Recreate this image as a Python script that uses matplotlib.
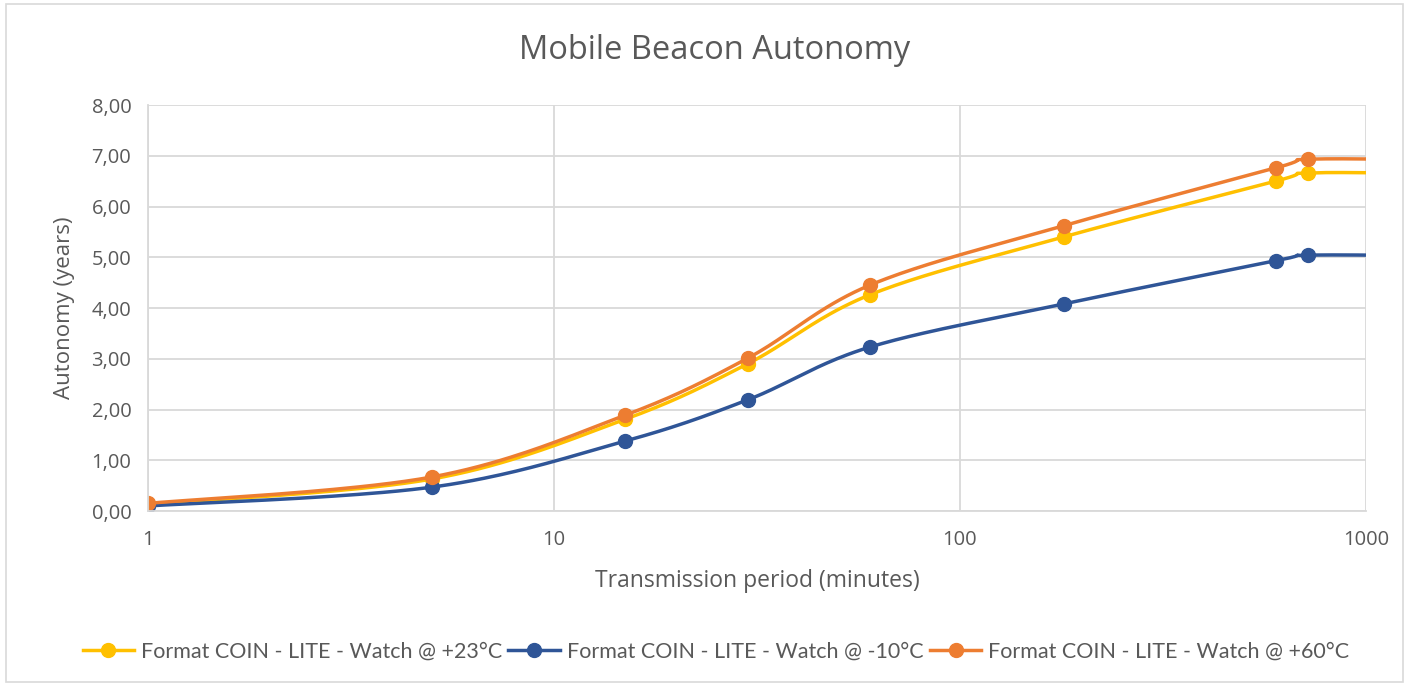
import numpy as np
import matplotlib
matplotlib.use("Agg")
import matplotlib.pyplot as plt
from matplotlib.ticker import FuncFormatter, FixedLocator, NullLocator
from matplotlib.patches import Rectangle

plt.rcParams['font.family'] = ['Open Sans', 'DejaVu Sans']

# Data (x in minutes, y in years)
periods = [1, 5, 15, 30, 60, 180, 600, 720, 1440]
auto_23 = [0.13, 0.63, 1.81, 2.90, 4.26, 5.40, 6.50, 6.66, 6.65]
auto_m10 = [0.10, 0.47, 1.38, 2.19, 3.23, 4.08, 4.93, 5.04, 5.03]
auto_60 = [0.15, 0.67, 1.89, 3.01, 4.45, 5.62, 6.76, 6.93, 6.92]

labels = ['Format COIN - LITE - Watch @ +23°C',
          'Format COIN - LITE - Watch @ -10°C',
          'Format COIN - LITE - Watch @ +60°C']
colors = ['#FFC000', '#2F5597', '#ED7D31']


def smooth(xs, ys, n=40):
    # Excel-like smoothed line (Catmull-Rom Bezier) in log-x space
    px = np.log10(np.array(xs, float))
    py = np.array(ys, float)
    outx, outy = [], []
    for i in range(len(px) - 1):
        p0 = (px[max(i - 1, 0)], py[max(i - 1, 0)])
        p1 = (px[i], py[i])
        p2 = (px[i + 1], py[i + 1])
        p3 = (px[min(i + 2, len(px) - 1)], py[min(i + 2, len(px) - 1)])
        c1 = (p1[0] + (p2[0] - p0[0]) / 6, p1[1] + (p2[1] - p0[1]) / 6)
        c2 = (p2[0] - (p3[0] - p1[0]) / 6, p2[1] - (p3[1] - p1[1]) / 6)
        t = np.linspace(0, 1, n)
        bx = ((1 - t) ** 3 * p1[0] + 3 * (1 - t) ** 2 * t * c1[0]
              + 3 * (1 - t) * t ** 2 * c2[0] + t ** 3 * p2[0])
        by = ((1 - t) ** 3 * p1[1] + 3 * (1 - t) ** 2 * t * c1[1]
              + 3 * (1 - t) * t ** 2 * c2[1] + t ** 3 * p2[1])
        outx.extend(bx)
        outy.extend(by)
    return 10 ** np.array(outx), np.array(outy)


fig = plt.figure(figsize=(14.09, 6.85), dpi=100)
ax = fig.add_axes([0.105, 0.254, 0.8644, 0.5927])

for ys, lab, col in zip([auto_23, auto_m10, auto_60], labels, colors):
    sx, sy = smooth(periods, ys)
    ax.plot(sx, sy, color=col, linewidth=2.5, solid_capstyle='round')
    ax.plot(periods, ys, 'o', color=col, markersize=10)
    ax.plot([], [], color=col, linewidth=2.5, marker='o', markersize=10, label=lab)

ax.set_xscale('log')
ax.set_xlim(1, 1000)
ax.set_ylim(0, 8)
ax.set_yticks(np.arange(0, 8.1, 1))
ax.yaxis.set_major_formatter(FuncFormatter(lambda v, p: f'{v:.2f}'.replace('.', ',')))
ax.xaxis.set_major_locator(FixedLocator([1, 10, 100, 1000]))
ax.xaxis.set_minor_locator(NullLocator())
ax.xaxis.set_major_formatter(FuncFormatter(lambda v, p: f'{int(v)}'))

ax.grid(True, color='#D9D9D9', linewidth=1.3)
ax.set_axisbelow(True)
for s in ['top', 'right']:
    ax.spines[s].set_visible(False)
for s in ['left', 'bottom']:
    ax.spines[s].set_color('#D9D9D9')
    ax.spines[s].set_linewidth(1.3)
ax.tick_params(axis='y', length=0, labelsize=14.5, colors='#595959', pad=12)
ax.tick_params(axis='x', length=0, labelsize=14.5, colors='#595959', pad=14)

fig.text(0.507, 0.927, 'Mobile Beacon Autonomy', fontsize=23.5, color='#595959',
         ha='center', va='center')
ax.set_xlabel('Transmission period (minutes)', fontsize=16.5, color='#595959', labelpad=13)
ax.set_ylabel('Autonomy (years)', fontsize=16, color='#595959', labelpad=12)

fig.legend(loc='center', bbox_to_anchor=(0.508, 0.049), ncol=3, frameon=False,
           prop={'family': ['Lato', 'DejaVu Sans'], 'size': 15.5},
           labelcolor='#595959', handlelength=2.4, columnspacing=0.3,
           handletextpad=0.3)

fig.patches.append(Rectangle((0.004, 0.004), 0.992, 0.99, transform=fig.transFigure,
                             fill=False, edgecolor='#D9D9D9', linewidth=1.2))

fig.savefig('out.png', dpi=100)
